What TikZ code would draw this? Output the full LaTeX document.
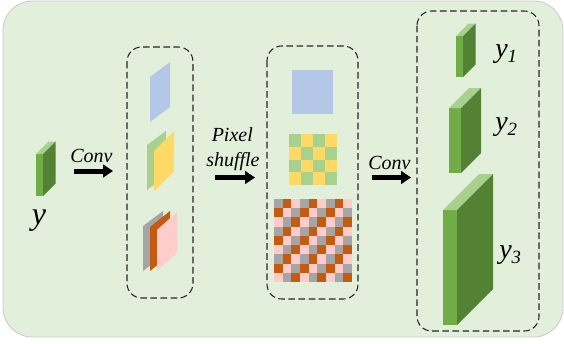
\documentclass[tikz,border=0pt]{standalone}
\usepackage{fontspec}
\setmainfont{Liberation Serif}
\usetikzlibrary{arrows.meta}
\definecolor{bg}{HTML}{E2EFDA}
\definecolor{bgline}{HTML}{C9C9C9}
\definecolor{gtop}{HTML}{A9D18E}
\definecolor{gfront}{HTML}{70AD47}
\definecolor{gside}{HTML}{548235}
\definecolor{pblue}{HTML}{B4C7E7}
\definecolor{pyellow}{HTML}{FFD966}
\definecolor{pgreen}{HTML}{A9D18E}
\definecolor{pgray}{HTML}{A5A5A5}
\definecolor{porange}{HTML}{C55A11}
\definecolor{ppink}{HTML}{FFCCCC}
\tikzset{
 groupbox/.style={draw=black!85, dash pattern=on 5pt off 2.6pt, line width=0.8pt, rounded corners=11pt},
 bigarrow/.style={line width=3.75pt, -{Triangle[length=7.5pt,width=9.5pt]}},
 lab/.style={inner sep=0pt, anchor=base west, font=\fontsize{15}{18}\selectfont\itshape},
 ylab/.style={inner sep=0pt, anchor=base west, font=\fontsize{24}{27}\selectfont\itshape},
 ysublab/.style={inner sep=0pt, anchor=base west, font=\fontsize{21}{24}\selectfont\itshape},
}
\newcommand\blockdraw[5]{%
 \fill[gfront] (#1,#2) rectangle ++(#3,#4);
 \fill[gtop] (#1,#2) -- ++(#3,0) -- ++(#5,-#5) -- ++(-#3,0) -- cycle;
 \fill[gside] (#1+#3,#2) -- ++(#5,-#5) -- ++(0,#4) -- ++(-#5,#5) -- cycle;
}
\newcommand\paradraw[6]{%
 \fill[#1] (#2,#3) -- ++(#4,-#6) -- ++(0,#5) -- ++(-#4,#6) -- cycle;
}
\newcommand\ysub[1]{y\raisebox{-4.3pt}{\fontsize{14}{16}\selectfont\itshape #1}}
\begin{document}
\begin{tikzpicture}[x=0.75pt,y=-0.75pt]
\useasboundingbox (0,0) rectangle (564,343);
% background
\draw[bgline, fill=bg, line width=0.6pt, rounded corners=22pt] (3,1) rectangle (563,337);
% input block
\blockdraw{36}{154}{7}{42}{12.5}
\node[ylab] (yin) at (31.5,224) {y};
% arrow 1
\coordinate (a1s) at (74,171);
\coordinate (a1e) at (113,171);
\draw[bigarrow] (a1s) -- (a1e);
\node[lab] (conv1) at (70,162.5) {Conv};
% group 1
\draw[groupbox] (127,47) rectangle (193,298);
\paradraw{pblue}{150}{77}{20}{45}{15}
\paradraw{pgreen}{147}{145}{19}{45}{14}
\paradraw{pyellow}{154}{151}{20}{40}{20}
\paradraw{pgray}{143}{226}{20}{45}{15}
\paradraw{porange}{150}{227}{20}{44}{16}
\paradraw{ppink}{157}{230}{20}{41}{18}
% arrow 2
\coordinate (a2s) at (215,177.5);
\coordinate (a2e) at (255,177.5);
\draw[bigarrow] (a2s) -- (a2e);
\node[lab] (pix) at (211.5,141.5) {Pixel};
\node[lab] (shuf) at (206,166.5) {shuffle};
% group 2
\draw[groupbox] (267,46) rectangle (358,299);
\fill[pblue] (292,70) rectangle (333,114);
\foreach \r in {0,...,3}{
 \foreach \c in {0,...,3}{
  \pgfmathtruncatemacro\m{mod(\r+\c,2)}
  \ifnum\m=0 \def\cc{pgreen}\else\def\cc{pyellow}\fi
  \fill[\cc] (289+12*\c,134+12.75*\r) rectangle ++(12.05,12.8);
 }}
\foreach \r in {0,...,8}{
 \foreach \c in {0,...,8}{
  \pgfmathtruncatemacro\m{mod(\r+\c,3)}
  \ifcase\m \def\cc{pgray}\or\def\cc{porange}\else\def\cc{ppink}\fi
  \fill[\cc] (274+8.67*\c,199+9.22*\r) rectangle ++(8.72,9.27);
 }}
% arrow 3
\coordinate (a3s) at (372,177.5);
\coordinate (a3e) at (411,177.5);
\draw[bigarrow] (a3s) -- (a3e);
\node[lab] (conv2) at (368,169) {Conv};
% group 3
\draw[groupbox] (417,11) rectangle (539,331);
\blockdraw{456}{36}{7}{41}{12.5}
\blockdraw{449}{108}{12}{65}{20}
\blockdraw{443}{210}{14}{115}{36}
\node[ysublab] (y1) at (495,57) {\ysub{1}};
\node[ysublab] (y2) at (495,130) {\ysub{2}};
\node[ysublab] (y3) at (499,258) {\ysub{3}};
\end{tikzpicture}
\end{document}
